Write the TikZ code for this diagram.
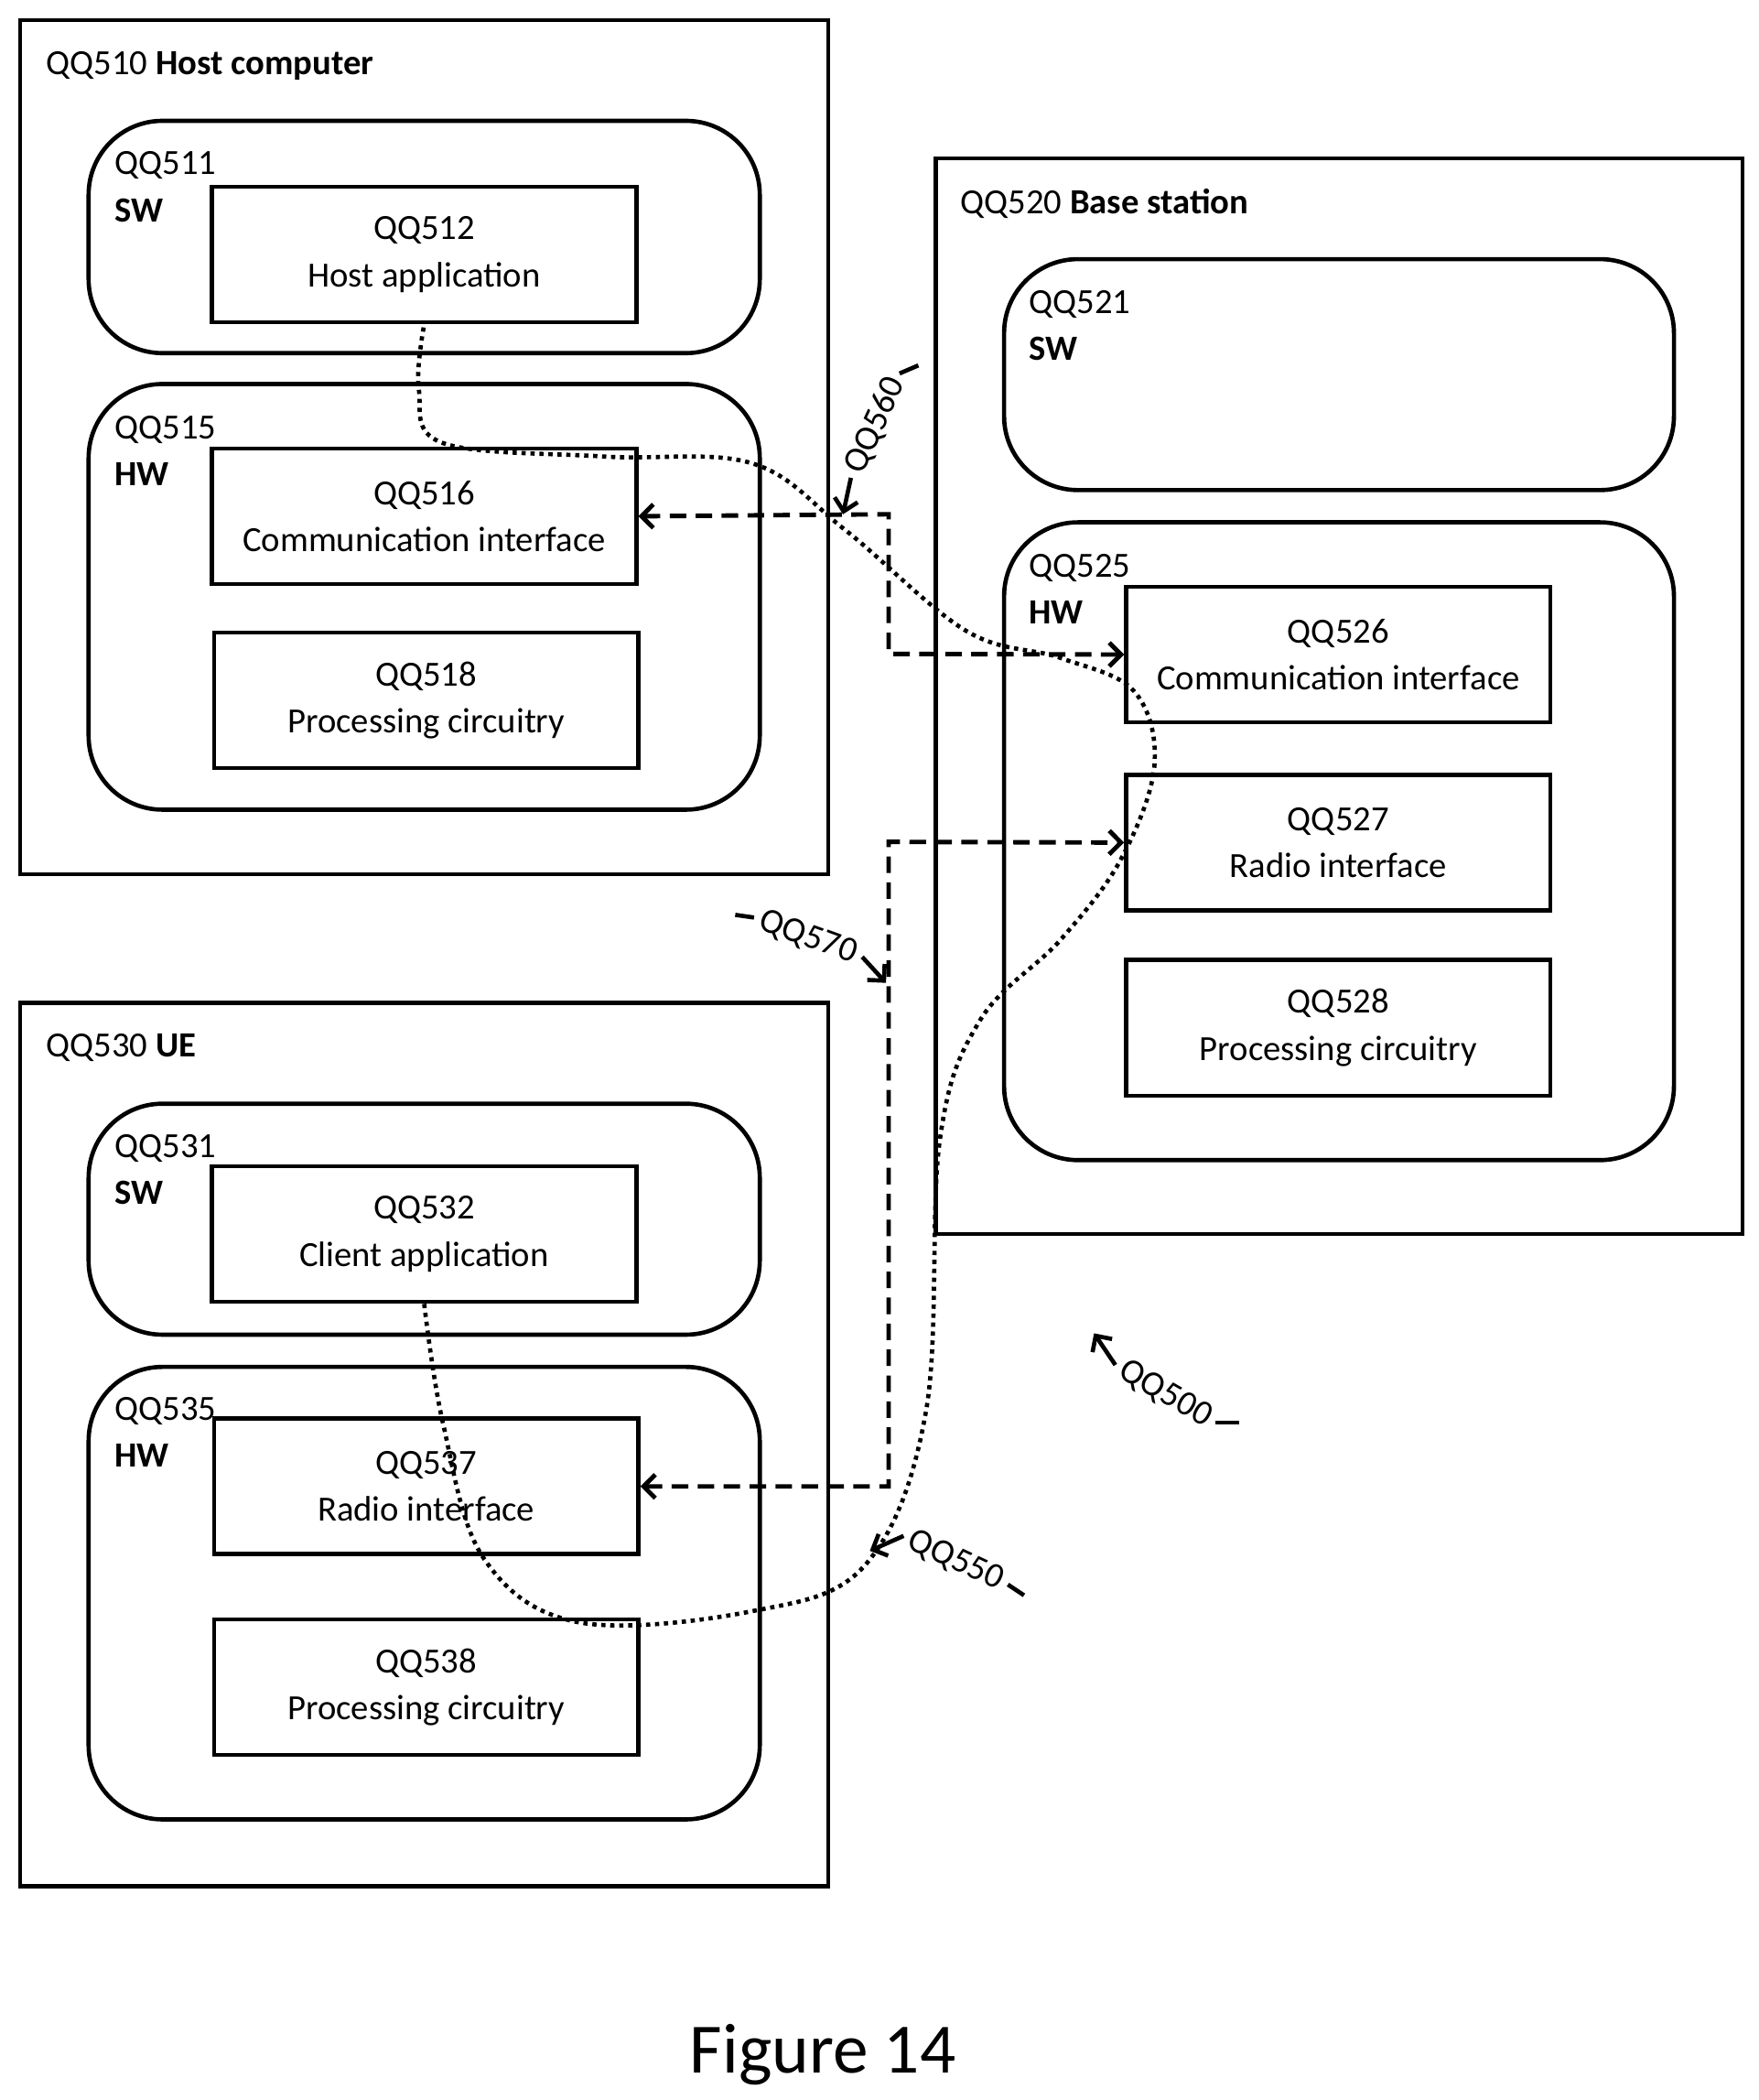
\documentclass[tikz,border=0pt]{standalone}
\usepackage{fontspec}
\setmainfont{Carlito}
\usetikzlibrary{arrows.meta}
\begin{document}
\begin{tikzpicture}[x=0.02cm,y=-0.02cm,line width=1.8pt,
    font=\fontsize{15}{20}\selectfont,
    box/.style={draw, minimum width=6.32cm, minimum height=2.02cm, align=center, inner sep=0pt},
    lbl/.style={anchor=west, inner sep=0pt},
    link/.style={dash pattern=on 7pt off 4pt, line width=1.9pt, {Straight Barb[length=5pt]}-{Straight Barb[length=5pt]}},
    tag/.style={inner sep=2pt}]
\useasboundingbox (0,0) rectangle (1310,1564);
% host computer
\draw (15,15) rectangle (617,651);
\node[lbl] (t510) at (33,49) {QQ510 \textbf{Host computer}};
\draw[rounded corners=1.1cm] (66,90) rectangle (566,263);
\node[lbl] at (84,123) {QQ511};
\node[lbl] at (84,157) {\textbf{SW}};
\node[box] (n512) at (316,189.5) {QQ512\\Host application};
\draw[rounded corners=1.1cm] (66,286) rectangle (566,603);
\node[lbl] at (84,320) {QQ515};
\node[lbl] at (84,353) {\textbf{HW}};
\node[box] (n516) at (316,384.5) {QQ516\\Communication interface};
\node[box] (n518) at (317.5,521.5) {QQ518\\Processing circuitry};
% base station
\draw (697,118) rectangle (1298,919);
\node[lbl] at (714,152) {QQ520 \textbf{Base station}};
\draw[rounded corners=1.1cm] (748,193) rectangle (1247,365);
\node[lbl] at (765,227) {QQ521};
\node[lbl] at (765,260) {\textbf{SW}};
\draw[rounded corners=1.1cm] (748,389) rectangle (1247,864);
\node[lbl] at (765,423) {QQ525};
\node[lbl] at (765,456) {\textbf{HW}};
\node[box] (n526) at (997,487.5) {QQ526\\Communication interface};
\node[box] (n527) at (997,627.5) {QQ527\\Radio interface};
\node[box] (n528) at (997,765.5) {QQ528\\Processing circuitry};
% UE
\draw (15,747) rectangle (617,1405);
\node[lbl] at (33,780) {QQ530 \textbf{UE}};
\draw[rounded corners=1.1cm] (66,822) rectangle (566,994);
\node[lbl] at (84,855) {QQ531};
\node[lbl] at (84,888) {\textbf{SW}};
\node[box] (n532) at (316,919) {QQ532\\Client application};
\draw[rounded corners=1.1cm] (66,1018) rectangle (566,1355);
\node[lbl] at (84,1051) {QQ535};
\node[lbl] at (84,1084) {\textbf{HW}};
\node[box] (n537) at (317.5,1107) {QQ537\\Radio interface};
\node[box] (n538) at (317.5,1256.5) {QQ538\\Processing circuitry};
% connections
\draw[link] (n516.east) -- (662,383) -- (662,487) -- (n526.west);
\draw[link] (n537.east) -- (662,1107) -- (662,627) -- (n527.west);
\draw[dotted, line width=1.8pt] plot[smooth, tension=0.6] coordinates {(n532.south) (330,1060) (360,1160) (430,1208) (560,1200) (645,1165) (690,1050) (700,850) (730,760) (790,700) (835,640) (860,570) (845,515) (790,490) (720,470) (630,395) (560,345) (450,340) (330,330) (312,290) (n512.south)};
% labels
\node[tag, rotate=65] (t560) at (652,317) {QQ560};
\draw (t560.east) -- ++(14,-6);
\draw[-{Straight Barb[length=5pt]}] (t560.west) -- (628,383);
\node[tag, rotate=-20] (t570) at (602,698) {QQ570};
\draw (t570.west) -- ++(-14,-2);
\draw[-{Straight Barb[length=5pt]}] (t570.east) -- (660,732);
\node[tag, rotate=-25] (t550) at (712,1162) {QQ550};
\draw (t550.east) -- ++(12,8);
\draw[-{Straight Barb[length=5pt]}] (t550.west) -- (648,1155);
\node[tag, rotate=-30] (t500) at (868,1038) {QQ500};
\draw (t500.east) -- ++(18,0);
\draw[-{Straight Barb[length=5pt]}] (t500.west) -- (815,993);
\node (fig) at (613,1530) {\fontsize{30}{36}\selectfont Figure 14};
\end{tikzpicture}
\end{document}
